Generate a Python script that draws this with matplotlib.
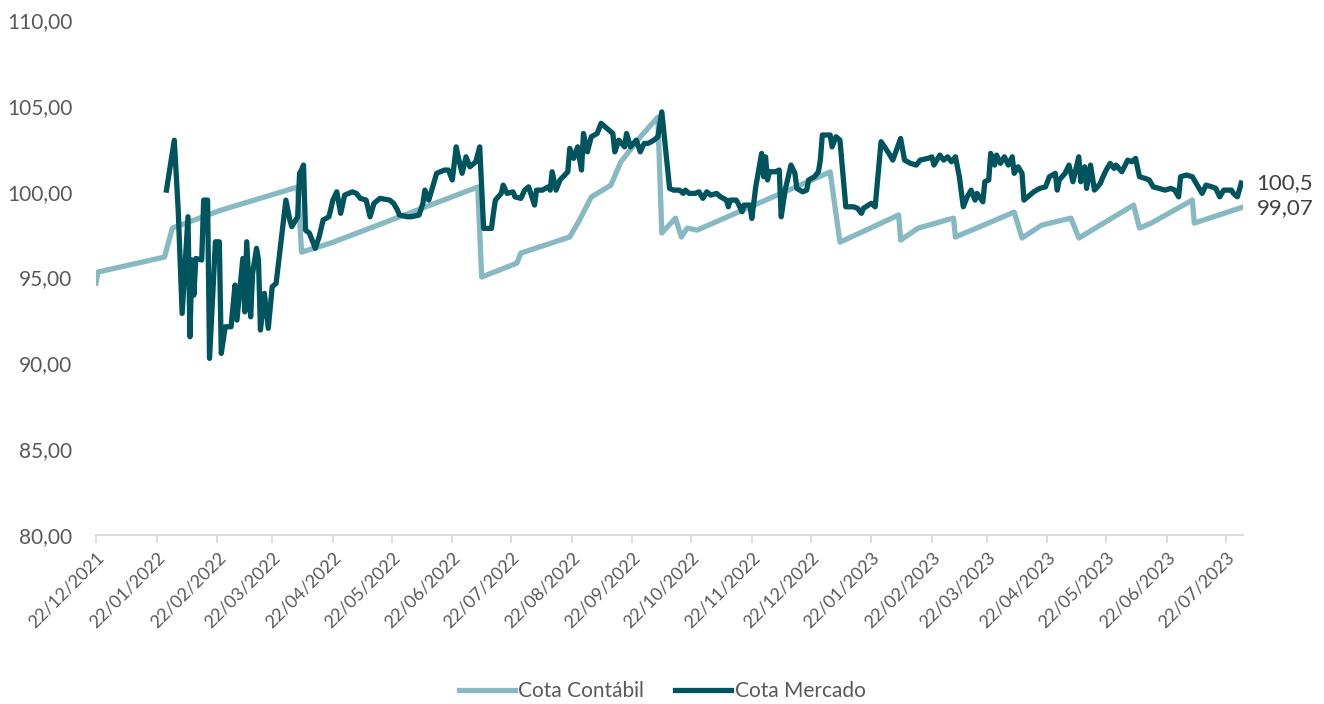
import matplotlib
matplotlib.use("Agg")
import matplotlib.pyplot as plt
from matplotlib.ticker import FuncFormatter
import pandas as pd

# data
contabil_dates = [
    "2021-12-22", "2021-12-23", "2022-01-26", "2022-01-30", "2022-02-24", "2022-04-04",
    "2022-04-06", "2022-04-21", "2022-07-05", "2022-07-07", "2022-07-25", "2022-07-27",
    "2022-08-21", "2022-08-26", "2022-09-01", "2022-09-11", "2022-09-16", "2022-09-26",
    "2022-10-05", "2022-10-07", "2022-10-14", "2022-10-17", "2022-10-20", "2022-10-25",
    "2023-01-01", "2023-01-06", "2023-02-05", "2023-02-06", "2023-02-15", "2023-03-05",
    "2023-03-06", "2023-04-05", "2023-04-09", "2023-04-19", "2023-05-04", "2023-05-08",
    "2023-06-05", "2023-06-08", "2023-06-14", "2023-07-05", "2023-07-06", "2023-07-30",
]
contabil_values = [
    94.68, 95.32, 96.19, 97.88, 98.93, 100.27,
    96.48, 97.01, 100.27, 95.03, 95.84, 96.42,
    97.36, 98.35, 99.69, 100.38, 101.72, 103.18,
    104.34, 97.59, 98.46, 97.36, 97.88, 97.76,
    101.15, 97.06, 98.64, 97.18, 97.88, 98.46,
    97.36, 98.81, 97.30, 98.05, 98.46, 97.30,
    99.22, 97.88, 98.17, 99.51, 98.17, 99.07,
]

mercado_dates = [
    "2022-01-27", "2022-01-31", "2022-02-02", "2022-02-04", "2022-02-07", "2022-02-08",
    "2022-02-09", "2022-02-10", "2022-02-11", "2022-02-14", "2022-02-15", "2022-02-17",
    "2022-02-18", "2022-02-21", "2022-02-23", "2022-02-24", "2022-02-26", "2022-03-01",
    "2022-03-03", "2022-03-04", "2022-03-07", "2022-03-08", "2022-03-09", "2022-03-11",
    "2022-03-12", "2022-03-14", "2022-03-15", "2022-03-16", "2022-03-18", "2022-03-20",
    "2022-03-22", "2022-03-24", "2022-03-26", "2022-03-29", "2022-03-31", "2022-04-01",
    "2022-04-04", "2022-04-05", "2022-04-06", "2022-04-07", "2022-04-08", "2022-04-10",
    "2022-04-13", "2022-04-15", "2022-04-17", "2022-04-20", "2022-04-22", "2022-04-24",
    "2022-04-26", "2022-04-28", "2022-05-02", "2022-05-04", "2022-05-06", "2022-05-09",
    "2022-05-11", "2022-05-13", "2022-05-16", "2022-05-21", "2022-05-23", "2022-05-25",
    "2022-05-26", "2022-05-30", "2022-06-01", "2022-06-05", "2022-06-07", "2022-06-08",
    "2022-06-10", "2022-06-14", "2022-06-18", "2022-06-20", "2022-06-22", "2022-06-24",
    "2022-06-25", "2022-06-27", "2022-06-29", "2022-07-01", "2022-07-04", "2022-07-06",
    "2022-07-08", "2022-07-12", "2022-07-13", "2022-07-14", "2022-07-17", "2022-07-18",
    "2022-07-20", "2022-07-23", "2022-07-24", "2022-07-27", "2022-07-29", "2022-07-31",
    "2022-08-03", "2022-08-04", "2022-08-07", "2022-08-10", "2022-08-11", "2022-08-12",
    "2022-08-14", "2022-08-16", "2022-08-20", "2022-08-21", "2022-08-23", "2022-08-25",
    "2022-08-27", "2022-08-28", "2022-08-30", "2022-09-01", "2022-09-04", "2022-09-06",
    "2022-09-08", "2022-09-10", "2022-09-12", "2022-09-13", "2022-09-15", "2022-09-18",
    "2022-09-19", "2022-09-21", "2022-09-24", "2022-09-26", "2022-09-28", "2022-09-30",
    "2022-10-03", "2022-10-05", "2022-10-07", "2022-10-11", "2022-10-13", "2022-10-16",
    "2022-10-18", "2022-10-19", "2022-10-21", "2022-10-24", "2022-10-26", "2022-10-28",
    "2022-10-30", "2022-11-01", "2022-11-04", "2022-11-06", "2022-11-09", "2022-11-10",
    "2022-11-11", "2022-11-14", "2022-11-15", "2022-11-17", "2022-11-18", "2022-11-21",
    "2022-11-22", "2022-11-24", "2022-11-27", "2022-11-28", "2022-11-29", "2022-11-30",
    "2022-12-01", "2022-12-04", "2022-12-06", "2022-12-07", "2022-12-09", "2022-12-12",
    "2022-12-14", "2022-12-15", "2022-12-18", "2022-12-20", "2022-12-21", "2022-12-24",
    "2022-12-26", "2022-12-27", "2022-12-28", "2023-01-01", "2023-01-02", "2023-01-04",
    "2023-01-06", "2023-01-09", "2023-01-13", "2023-01-15", "2023-01-17", "2023-01-18",
    "2023-01-22", "2023-01-24", "2023-01-27", "2023-01-31", "2023-02-02", "2023-02-06",
    "2023-02-08", "2023-02-11", "2023-02-14", "2023-02-16", "2023-02-20", "2023-02-22",
    "2023-02-23", "2023-02-26", "2023-02-28", "2023-03-02", "2023-03-04", "2023-03-06",
    "2023-03-08", "2023-03-10", "2023-03-12", "2023-03-14", "2023-03-16", "2023-03-17",
    "2023-03-20", "2023-03-21", "2023-03-23", "2023-03-24", "2023-03-26", "2023-03-27",
    "2023-03-29", "2023-03-31", "2023-04-02", "2023-04-04", "2023-04-05", "2023-04-07",
    "2023-04-09", "2023-04-10", "2023-04-13", "2023-04-15", "2023-04-18", "2023-04-21",
    "2023-04-23", "2023-04-26", "2023-04-27", "2023-04-28", "2023-05-01", "2023-05-03",
    "2023-05-05", "2023-05-08", "2023-05-09", "2023-05-11", "2023-05-12", "2023-05-14",
    "2023-05-16", "2023-05-19", "2023-05-20", "2023-05-22", "2023-05-24", "2023-05-26",
    "2023-05-27", "2023-05-30", "2023-06-02", "2023-06-04", "2023-06-06", "2023-06-08",
    "2023-06-11", "2023-06-13", "2023-06-15", "2023-06-18", "2023-06-21", "2023-06-24",
    "2023-06-26", "2023-06-28", "2023-06-29", "2023-07-02", "2023-07-05", "2023-07-07",
    "2023-07-10", "2023-07-12", "2023-07-15", "2023-07-17", "2023-07-19", "2023-07-21",
    "2023-07-23", "2023-07-25", "2023-07-26", "2023-07-28", "2023-07-30",
]
mercado_values = [
    100.09, 103.00, 98.93, 92.91, 98.54, 91.55,
    96.02, 93.98, 96.11, 96.02, 99.51, 99.51,
    90.29, 97.08, 97.08, 90.58, 92.13, 92.13,
    94.56, 92.52, 96.11, 93.00, 97.08, 92.71,
    95.24, 96.70, 96.02, 91.94, 94.08, 92.04,
    94.46, 94.66, 96.60, 99.51, 98.35, 97.96,
    98.54, 101.08, 101.26, 101.55, 97.76, 97.59,
    96.70, 97.37, 98.35, 98.54, 99.51, 99.99,
    98.74, 99.80, 99.99, 99.90, 99.61, 99.51,
    98.54, 99.32, 99.61, 99.51, 99.32, 98.93,
    98.64, 98.54, 98.54, 98.64, 99.32, 100.09,
    99.51, 101.07, 101.26, 101.26, 100.68, 102.61,
    102.03, 101.07, 102.03, 101.45, 101.74, 102.61,
    97.86, 97.86, 98.74, 99.51, 99.90, 100.38,
    99.90, 99.99, 99.70, 99.61, 100.09, 100.28,
    99.22, 100.09, 100.09, 100.28, 100.09, 101.16,
    100.09, 100.68, 101.16, 102.52, 101.94, 102.61,
    101.26, 103.39, 102.32, 103.20, 103.39, 103.98,
    103.78, 103.59, 103.39, 102.32, 103.00, 102.61,
    103.39, 102.61, 103.00, 102.32, 102.81, 102.81,
    103.00, 103.20, 104.65, 100.19, 100.09, 100.09,
    99.90, 100.09, 99.90, 99.90, 99.99, 99.61,
    99.99, 99.80, 99.90, 99.70, 99.51, 99.12,
    99.51, 99.51, 99.32, 98.83, 99.22, 99.22,
    98.44, 100.28, 102.23, 100.87, 102.03, 100.68,
    101.16, 101.16, 101.26, 98.54, 100.09, 101.55,
    101.07, 100.19, 99.99, 100.09, 100.68, 100.87,
    101.16, 101.84, 103.30, 103.30, 102.61, 103.20,
    103.00, 99.12, 99.12, 99.03, 98.74, 99.03,
    99.32, 99.12, 102.91, 102.23, 101.84, 103.10,
    101.84, 101.65, 101.55, 101.84, 101.94, 102.03,
    101.55, 102.13, 101.84, 102.03, 101.74, 102.03,
    100.87, 99.12, 99.70, 100.09, 99.51, 99.90,
    99.41, 100.58, 100.68, 102.23, 101.55, 102.13,
    101.65, 102.03, 101.55, 102.03, 101.07, 101.45,
    101.07, 99.51, 99.80, 99.99, 100.19, 100.28,
    100.87, 101.07, 100.09, 100.68, 101.07, 101.55,
    100.58, 102.03, 100.58, 101.45, 100.19, 101.55,
    100.09, 100.48, 100.77, 101.26, 101.65, 101.36,
    101.55, 101.16, 101.84, 101.74, 101.94, 100.87,
    100.77, 100.68, 100.28, 100.19, 100.09, 100.19,
    100.09, 99.70, 100.87, 100.97, 100.87, 100.48,
    99.90, 100.38, 100.28, 100.19, 99.70, 100.09,
    100.09, 100.09, 99.90, 99.70, 100.50,
]

tick_labels = [
    "22/12/2021", "22/01/2022", "22/02/2022", "22/03/2022", "22/04/2022", "22/05/2022",
    "22/06/2022", "22/07/2022", "22/08/2022", "22/09/2022", "22/10/2022", "22/11/2022",
    "22/12/2022", "22/01/2023", "22/02/2023", "22/03/2023", "22/04/2023", "22/05/2023",
    "22/06/2023", "22/07/2023",
]
series_names = ["Cota Contábil", "Cota Mercado"]
end_labels = ["99,07", "100,5"]

# style
LIGHT = "#86b9c1"
DARK = "#00545e"
TEXT = "#595959"
plt.rcParams["font.family"] = ["Lato", "DejaVu Sans"]

fig = plt.figure(figsize=(13.24, 7.04), dpi=100)
ax = fig.add_axes([0.0725, 0.240, 0.8665, 0.7316])

c_dates = pd.to_datetime(contabil_dates)
m_dates = pd.to_datetime(mercado_dates)
ax.plot(c_dates, contabil_values, color=LIGHT, lw=3.8, solid_joinstyle="round",
        label=series_names[0])
ax.plot(m_dates, mercado_values, color=DARK, lw=3.8, solid_joinstyle="round",
        label=series_names[1])

# end labels
ax.annotate(end_labels[0], (c_dates[-1], contabil_values[-1]), xytext=(11, 0),
            textcoords="offset points", va="center", ha="left", fontsize=16, color="#404040")
ax.annotate(end_labels[1], (m_dates[-1], mercado_values[-1]), xytext=(11, 0),
            textcoords="offset points", va="center", ha="left", fontsize=16, color="#404040")

# axes
ax.set_ylim(80, 110)
ax.set_yticks([80, 85, 90, 95, 100, 105, 110])
ax.yaxis.set_major_formatter(FuncFormatter(lambda v, p: f"{v:.2f}".replace(".", ",")))
ticks = pd.to_datetime(tick_labels, format="%d/%m/%Y")
ax.set_xticks(ticks)
ax.set_xticklabels(tick_labels, rotation=45, ha="right", rotation_mode="anchor")
ax.set_xlim(pd.Timestamp("2021-12-22"), pd.Timestamp("2023-07-31"))

for s in ["top", "right", "left"]:
    ax.spines[s].set_visible(False)
ax.spines["bottom"].set_color("#d9d9d9")
ax.spines["bottom"].set_linewidth(1.3)
ax.tick_params(axis="y", length=0, pad=17, labelsize=15, labelcolor=TEXT)
ax.tick_params(axis="x", length=6, width=1.3, color="#d9d9d9", pad=4,
               labelsize=13, labelcolor=TEXT)

leg = fig.legend(loc="center", bbox_to_anchor=(0.5, 0.018), ncol=2, frameon=False,
                 fontsize=15, handlelength=2.7, handletextpad=0.15, columnspacing=1.5)
for t in leg.get_texts():
    t.set_color(TEXT)

fig.savefig("out.png", dpi=100)
